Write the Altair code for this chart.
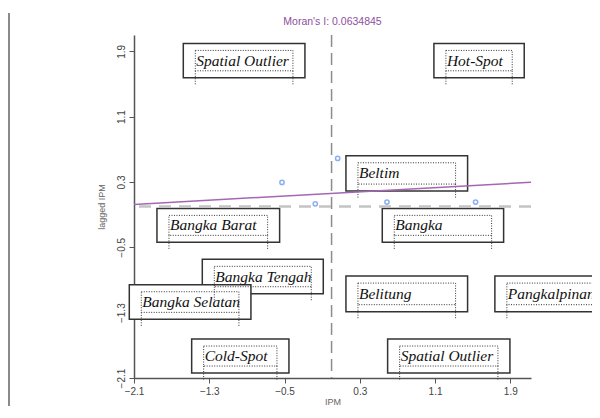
import altair as alt
import pandas as pd

# ---- data ----
ipm = [-0.527, -0.173, 0.065, 0.589, 1.531]
lag_ipm = [0.295, 0.033, 0.589, 0.054, 0.054]

reg_x = [-2.1, 2.12]
reg_y = [0.026, 0.296]

x_mean = 0.0
y_mean = 0.0

tick_values = [-2.1, -1.3, -0.5, 0.3, 1.1, 1.9]

box_text = ["Spatial Outlier", "Hot-Spot", "Beltim", "Bangka Barat", "Bangka",
            "Bangka Tengah", "Bangka Selatan", "Belitung", "Pangkalpinang",
            "Cold-Spot", "Spatial Outlier"]
box_x0 = [-1.576, 1.088, 0.153, -1.856, 0.539, -1.374, -2.150, 0.153, 1.736, -1.487, 0.596]
box_x1 = [-0.283, 2.048, 1.446, -0.552, 1.829, -0.088, -0.857, 1.446, 3.033, -0.453, 1.896]
box_y0 = [1.997, 1.997, 0.621, -0.023, -0.023, -0.647, -0.958, -0.852, -0.852, -1.623, -1.623]
box_y1 = [1.576, 1.576, 0.189, -0.439, -0.439, -1.068, -1.382, -1.288, -1.288, -2.039, -2.039]

title_text = "Moran's I: 0.0634845"

# ---- tables ----
pts = pd.DataFrame({"x": ipm, "y": lag_ipm})
reg = pd.DataFrame({"x": reg_x, "y": reg_y})
boxes = pd.DataFrame({"label": box_text, "x0": box_x0, "x1": box_x1,
                      "y0": box_y0, "y1": box_y1})
vline = pd.DataFrame({"x": [x_mean]})
hline = pd.DataFrame({"y": [y_mean]})

xs = alt.Scale(domain=[-2.1, 2.12], nice=False, zero=False)
ys = alt.Scale(domain=[-2.1, 2.1], nice=False, zero=False)

sans = "Liberation Sans"
xaxis = alt.Axis(values=tick_values, format=".1f", title="IPM", grid=False,
                 tickSize=5, labelPadding=3, labelFontSize=10, labelFont=sans,
                 labelColor="#444", titleFontSize=9, titleFont=sans,
                 titleColor="#666", titleFontWeight="normal",
                 titleY=26, titleBaseline="alphabetic",
                 domainColor="#555", tickColor="#555", domainWidth=1.5,
                 labelFlush=False)
yaxis = alt.Axis(values=tick_values, format=".1f", title="lagged IPM", grid=False,
                 tickSize=5, labelPadding=3, labelFontSize=10, labelFont=sans,
                 labelColor="#444", labelAngle=270, labelAlign="center",
                 labelBaseline="bottom", titleFontSize=9, titleFont=sans,
                 titleColor="#666", titleFontWeight="normal", titlePadding=10,
                 domainColor="#555", tickColor="#555", domainWidth=1.5,
                 labelFlush=False)


def X(f):
    return alt.X(f, scale=xs, axis=xaxis)


def Y(f):
    return alt.Y(f, scale=ys, axis=yaxis)


base_boxes = alt.Chart(boxes)

outer = base_boxes.mark_rect(fill="white", stroke="#333", strokeWidth=1.5).encode(
    x=X("x0:Q"), x2="x1:Q", y=Y("y0:Q"), y2="y1:Q")
inner = base_boxes.mark_rect(filled=False, stroke="#333", strokeWidth=1,
                             strokeDash=[1, 1.5], xOffset=12, x2Offset=-12,
                             yOffset=7, y2Offset=-7).encode(
    x=X("x0:Q"), x2="x1:Q", y=Y("y0:Q"), y2="y1:Q")
leg_l = base_boxes.mark_rule(stroke="#333", strokeWidth=1, strokeDash=[1, 1.5],
                             xOffset=12, yOffset=-7, y2Offset=8).encode(
    x=X("x0:Q"), y=Y("y1:Q"), y2="y1:Q")
leg_r = base_boxes.mark_rule(stroke="#333", strokeWidth=1, strokeDash=[1, 1.5],
                             xOffset=-12, yOffset=-7, y2Offset=8).encode(
    x=X("x1:Q"), y=Y("y1:Q"), y2="y1:Q")
texts = base_boxes.transform_calculate(ym="(datum.y0 + datum.y1) / 2").mark_text(
    font="Liberation Serif", fontStyle="italic", fontSize=15.5, color="#111",
    align="left", baseline="middle", dx=13).encode(
    x=X("x0:Q"), y=Y("ym:Q"), text="label:N")

reg_line = alt.Chart(reg).mark_line(color="#a467b4", strokeWidth=1.5).encode(
    x=X("x:Q"), y=Y("y:Q"))

v_rule = alt.Chart(vline).mark_rule(color="#8c8c8c", strokeWidth=1.5,
                                    strokeDash=[12, 6]).encode(x=X("x:Q"))
h_rule = alt.Chart(hline).mark_rule(color="#c4c4c4", strokeWidth=2.5,
                                    strokeDash=[12, 8]).encode(y=Y("y:Q"))

points = alt.Chart(pts).mark_point(shape="circle", filled=False, color="#5b8def",
                                   size=18, strokeWidth=1.5).encode(
    x=X("x:Q"), y=Y("y:Q"))

# page-edge decoration seen at the left of the reference
edge = alt.Chart(pd.DataFrame({"a": [0]})).mark_rule(color="#8a8a8a", strokeWidth=2).encode(
    x=alt.value(-125), y=alt.value(-22), y2=alt.value(383))

chart = alt.layer(outer, inner, leg_l, leg_r, texts, reg_line, v_rule, h_rule,
                  points, edge).properties(
    width=397, height=343,
    autosize=alt.AutoSizeParams(type="none"),
    padding={"left": 126, "top": 27, "right": 61, "bottom": 28},
    title=alt.TitleParams(title_text, color="#8e4f9e", fontSize=10.5, font=sans,
                          fontWeight="normal", offset=-15, anchor="middle",
                          frame="group"),
    background="white",
).configure_view(stroke=None)

chart.save("out.html", embed_options={"renderer": "svg", "actions": False})
